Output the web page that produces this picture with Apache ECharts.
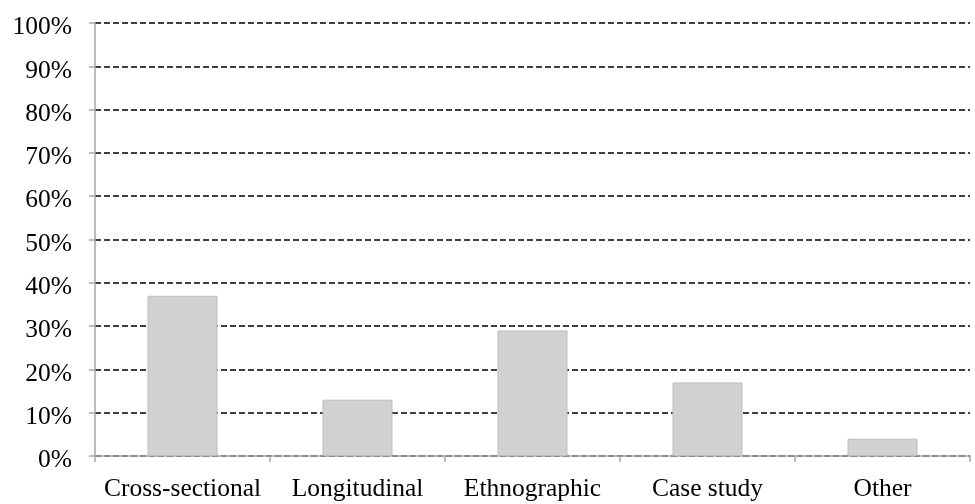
<!DOCTYPE html>
<html>
<head>
<meta charset="utf-8">
<script src="https://cdn.jsdelivr.net/npm/echarts@6/dist/echarts.min.js"></script>
<style>html,body{margin:0;padding:0;background:#fff}#c{width:975px;height:504px}</style>
</head>
<body>
<div id="c"></div>
<script>
const categories = ['Cross-sectional', 'Longitudinal', 'Ethnographic', 'Case study', 'Other'];
const values = [37, 13, 29, 17, 4];
const yTicks = [0, 10, 20, 30, 40, 50, 60, 70, 80, 90, 100];

const chart = echarts.init(document.getElementById('c'), null, {renderer: 'canvas'});
chart.setOption({
  animation: false,
  textStyle: {fontFamily: 'Liberation Serif'},
  grid: {left: 95, right: 5, top: 23, bottom: 48, containLabel: false},
  xAxis: {
    type: 'category',
    data: categories,
    axisLine: {lineStyle: {color: '#a6a6a6', width: 1.5}},
    axisTick: {show: true, interval: 0, alignWithLabel: false, length: 6, lineStyle: {color: '#a6a6a6', width: 1.5}},
    axisLabel: {color: '#000', interval: 0, hideOverlap: false, fontSize: 25.5, fontFamily: 'Liberation Serif', margin: 20}
  },
  yAxis: {
    type: 'value',
    min: yTicks[0],
    max: yTicks[yTicks.length - 1],
    interval: 10,
    axisLine: {show: true, lineStyle: {color: '#a6a6a6', width: 1.5}},
    axisTick: {show: true, length: 6, lineStyle: {color: '#a6a6a6', width: 1.5}},
    axisLabel: {
      color: '#000', fontSize: 25.5, fontFamily: 'Liberation Serif', margin: 23,
      formatter: v => '{a|' + v + '%}',
      rich: {a: {fontSize: 25.5, fontFamily: 'Liberation Serif', color: '#000', padding: [9, 0, 0, 0]}}
    },
    splitLine: {show: true, lineStyle: {color: '#000', type: [6, 3], width: 1.6}}
  },
  series: [{
    type: 'bar',
    data: values,
    barWidth: '40%',
    itemStyle: {color: '#d0d2d1', borderColor: '#bdbdbd', borderWidth: 1},
    z: 3
  }]
});
</script>
</body>
</html>
